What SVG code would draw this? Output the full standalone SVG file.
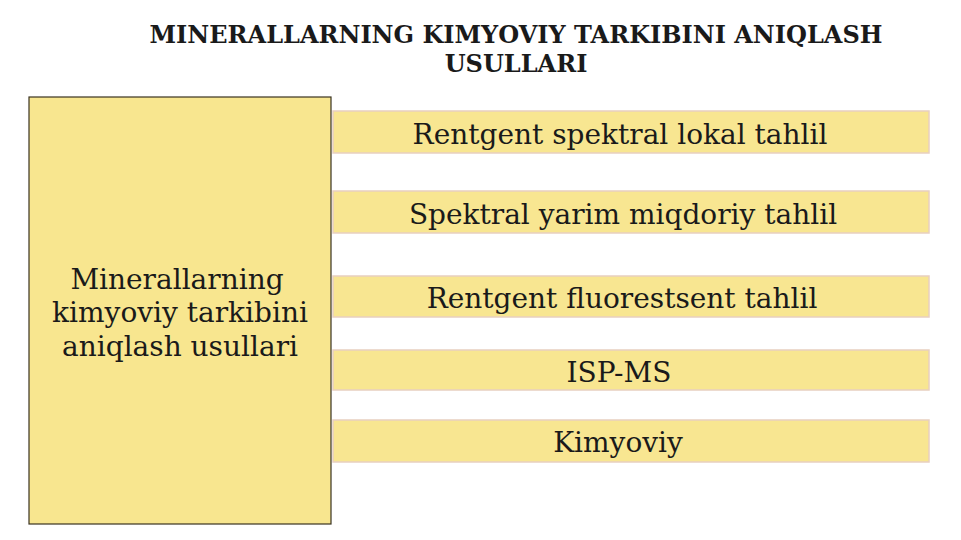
<svg xmlns="http://www.w3.org/2000/svg" width="961" height="540" viewBox="0 0 961 540">
<style>
.t{font-family:"DejaVu Serif","Liberation Serif",serif;fill:#1a1a1a}
.title{font-size:24px;font-weight:bold;text-anchor:middle}
.lbl{font-size:28px;text-anchor:middle}
.bar{fill:#f8e691;stroke:#e8cfc0;stroke-width:1.5}
</style>
<rect width="961" height="540" fill="#ffffff"/>
<g id="title">
<text class="t title" x="516" y="43">MINERALLARNING KIMYOVIY TARKIBINI ANIQLASH</text>
<text class="t title" x="516" y="72">USULLARI</text>
</g>
<g id="main">
<rect x="29" y="97" width="302" height="427" fill="#f8e68f" stroke="#3a3320" stroke-width="1.2"/>
<text class="t lbl" x="177" y="289">Minerallarning</text>
<text class="t lbl" x="180" y="322">kimyoviy tarkibini</text>
<text class="t lbl" x="180" y="356">aniqlash usullari</text>
</g>
<g id="connectors"></g>
<g id="m1">
<rect class="bar" x="333" y="111" width="596" height="42"/>
<text class="t lbl" x="620" y="144">Rentgent spektral lokal tahlil</text>
</g>
<g id="m2">
<rect class="bar" x="333" y="191" width="596" height="42"/>
<text class="t lbl" x="623" y="224">Spektral yarim miqdoriy tahlil</text>
</g>
<g id="m3">
<rect class="bar" x="333" y="276" width="596" height="41"/>
<text class="t lbl" x="622" y="308">Rentgent fluorestsent tahlil</text>
</g>
<g id="m4">
<rect class="bar" x="333" y="350" width="596" height="40"/>
<text class="t lbl" x="619" y="382">ISP-MS</text>
</g>
<g id="m5">
<rect class="bar" x="333" y="420" width="596" height="42"/>
<text class="t lbl" x="618" y="452">Kimyoviy</text>
</g>
</svg>
